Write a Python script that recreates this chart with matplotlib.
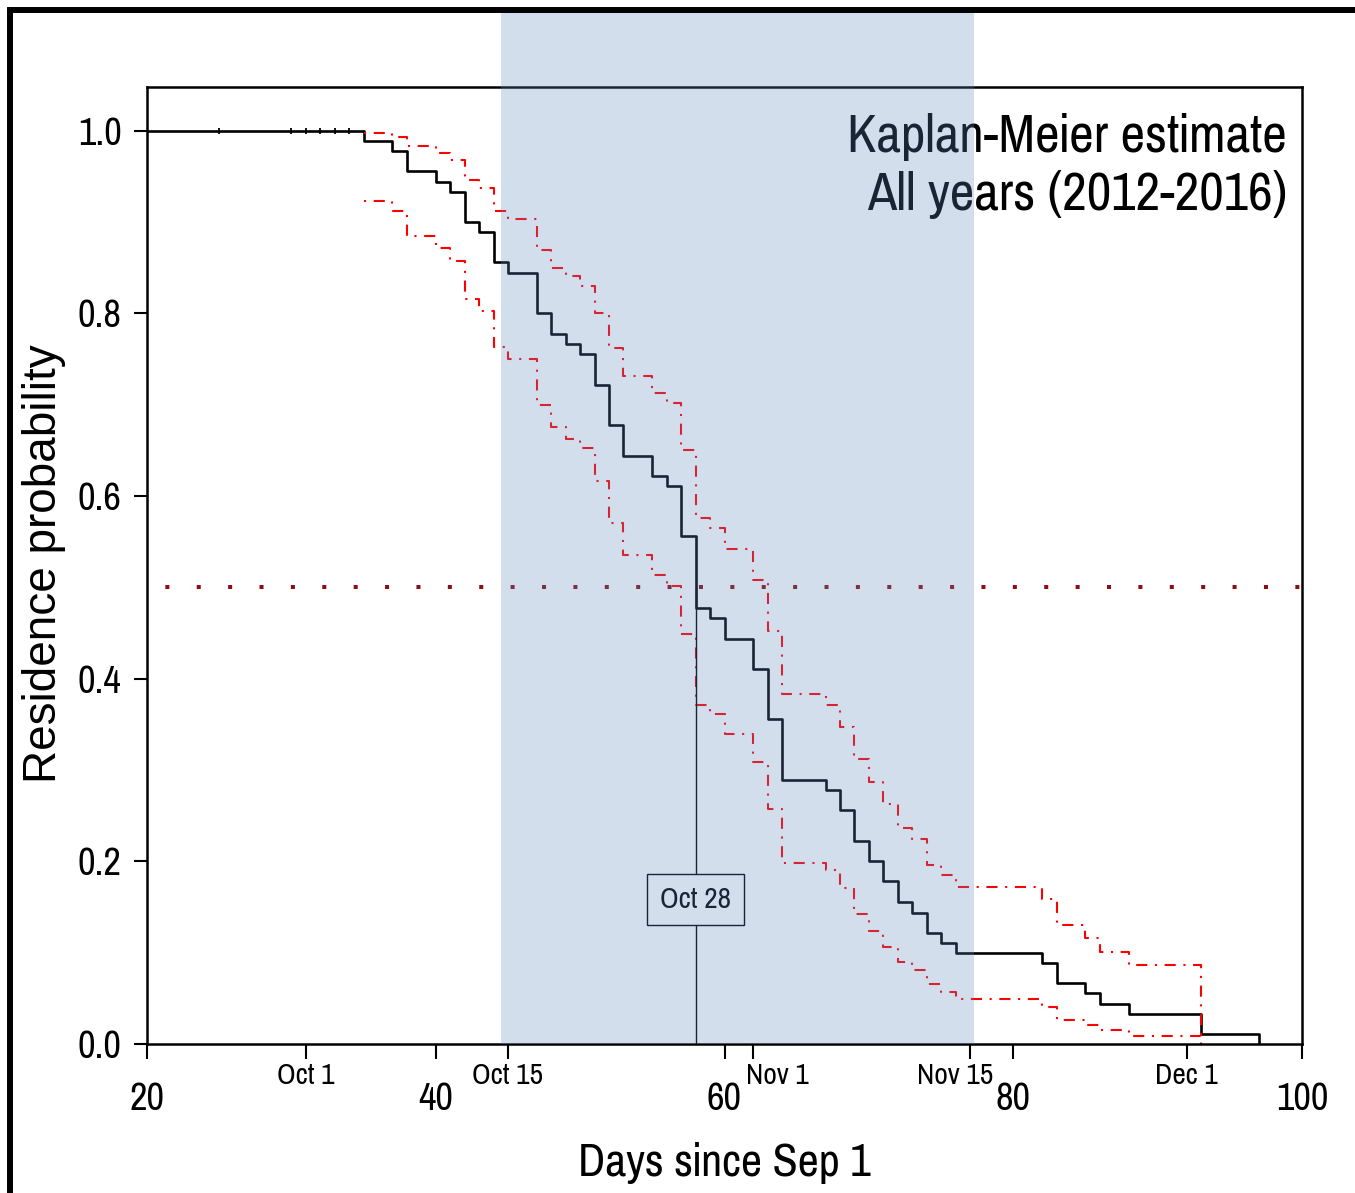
import matplotlib
matplotlib.use('Agg')
import matplotlib.pyplot as plt
from matplotlib.lines import Line2D
import matplotlib.transforms as mtransforms

# Kaplan-Meier step curve (value after each day)
km_days = [20, 35, 37, 38, 40, 41, 42, 43, 44, 45, 47, 48, 49, 50, 51, 52, 53, 55, 56, 57,
           58, 59, 60, 62, 63, 64, 67, 68, 69, 70, 71, 72, 73, 74, 75, 76, 82, 83, 85, 86,
           88, 93, 97]
km_surv = [1.0, 0.989, 0.978, 0.956, 0.944, 0.933, 0.900, 0.889, 0.856, 0.844, 0.800, 0.778,
           0.767, 0.756, 0.722, 0.678, 0.644, 0.622, 0.611, 0.556, 0.478, 0.467, 0.444, 0.411,
           0.356, 0.289, 0.278, 0.256, 0.222, 0.200, 0.178, 0.156, 0.144, 0.122, 0.111, 0.100,
           0.089, 0.067, 0.056, 0.044, 0.033, 0.011, 0.0]

# confidence band steps
ci_days = [35, 37, 38, 40, 41, 42, 43, 44, 45, 47, 48, 49, 50, 51, 52, 53, 55, 56, 57, 58,
           59, 60, 62, 63, 64, 67, 68, 69, 70, 71, 72, 73, 74, 75, 76, 82, 83, 85, 86, 88, 93]
ci_upper = [0.9975, 0.993, 0.983, 0.976, 0.968, 0.946, 0.937, 0.912, 0.903, 0.869, 0.850,
            0.841, 0.830, 0.801, 0.762, 0.731, 0.713, 0.702, 0.650, 0.576, 0.565, 0.542,
            0.508, 0.452, 0.383, 0.371, 0.347, 0.312, 0.287, 0.263, 0.236, 0.224, 0.196,
            0.185, 0.172, 0.159, 0.130, 0.116, 0.101, 0.086, 0.0]
ci_lower = [0.923, 0.912, 0.885, 0.872, 0.857, 0.816, 0.803, 0.763, 0.750, 0.700, 0.676,
            0.663, 0.653, 0.616, 0.571, 0.536, 0.514, 0.502, 0.449, 0.371, 0.361, 0.340,
            0.309, 0.257, 0.198, 0.190, 0.171, 0.142, 0.124, 0.106, 0.090, 0.081, 0.066,
            0.057, 0.049, 0.041, 0.026, 0.021, 0.015, 0.009, 0.0]

censor_days = [25, 30, 31, 32, 33, 34]

median_day = 58
median_label = 'Oct 28'
peak_start, peak_end = 44.5, 77.3

num_ticks = [20, 40, 60, 80, 100]
date_ticks = [31, 45, 62, 77, 92]
date_label_pos = [31, 45, 63.7, 76, 92]
date_labels = ['Oct 1', 'Oct 15', 'Nov 1', 'Nov 15', 'Dec 1']
y_ticks = [0.0, 0.2, 0.4, 0.6, 0.8, 1.0]

narrow = ['Pragati Narrow', 'Liberation Sans Narrow', 'Liberation Sans', 'DejaVu Sans']
plt.rcParams['font.family'] = narrow
plt.rcParams['lines.scale_dashes'] = False

fig = plt.figure(figsize=(13.55, 11.93), dpi=100)
ax = fig.add_axes([147/1355, 1 - 1044/1193, 1155/1355, 957/1193])

ax.step(km_days, km_surv, where='post', color='black', lw=1.9, zorder=2)
ax.plot(censor_days, [1.0]*len(censor_days), ls='none', marker='|', ms=4, mew=1.3,
        color='black', zorder=2)
ci_style = (0, (1.5, 5.5, 8, 5.5))
ax.step(ci_days, ci_upper, where='post', color='red', lw=1.5, ls=ci_style, zorder=2)
ax.step(ci_days, ci_lower, where='post', color='red', lw=1.5, ls=ci_style, zorder=2)

ax.plot([20, 100], [0.5, 0.5], color='#8b1010', lw=2.9,
        ls=(9.4, (2.9, 19.7)), zorder=2)
ax.plot([median_day, median_day], [0, 0.5], color='black', lw=1.0, zorder=2)
ax.text(median_day, 0.158, median_label, ha='center', va='center', fontsize=23,
        bbox=dict(boxstyle='square,pad=0.4', fc='white', ec='black', lw=1.0), zorder=3)

ax.text(0.987, 0.9324, 'Kaplan-Meier estimate', transform=ax.transAxes,
        ha='right', va='baseline', fontsize=42, zorder=1)
ax.text(0.987, 0.8715, 'All years (2012-2016)', transform=ax.transAxes,
        ha='right', va='baseline', fontsize=42, zorder=1)

ax.axvspan(peak_start, peak_end, ymin=0, ymax=1.0773, color='#5f87c1', alpha=0.275,
           lw=0, clip_on=False, zorder=4)

ax.set_xlim(20, 100)
ax.set_ylim(0, 1.048)
ax.set_xticks(num_ticks)
ax.set_xticks(date_ticks, minor=True)
ax.set_yticks(y_ticks)
ax.set_yticklabels(['%.1f' % v for v in y_ticks])
ax.tick_params(axis='x', which='major', direction='out', length=11, width=1.5,
               labelsize=30, pad=16)
ax.tick_params(axis='x', which='minor', direction='out', length=11, width=1.5,
               labelbottom=False)
ax.tick_params(axis='y', direction='out', length=9.4, width=1.5, labelsize=30, pad=9)

trans = mtransforms.blended_transform_factory(ax.transData, ax.transAxes)
for pos, lab in zip(date_label_pos, date_labels):
    ax.text(pos, -0.02, lab, transform=trans, ha='center', va='top', fontsize=23,
            clip_on=False)

for sp in ax.spines.values():
    sp.set_linewidth(1.8)

ax.set_xlabel('Days since Sep 1', fontsize=36)
ax.xaxis.set_label_coords(0.5, -0.102)
ax.xaxis.label.set_va('top')
ax.set_ylabel('Residence probability', fontsize=33, family=['Liberation Sans', 'DejaVu Sans'])
ax.yaxis.set_label_coords(-0.07, 0.502)

fig.add_artist(Line2D([10/1355, 10/1355, 1.05], [-0.05, 1 - 10/1193, 1 - 10/1193],
                      transform=fig.transFigure, color='black', lw=4.3,
                      solid_joinstyle='miter'))

fig.savefig('out.png', dpi=100)
